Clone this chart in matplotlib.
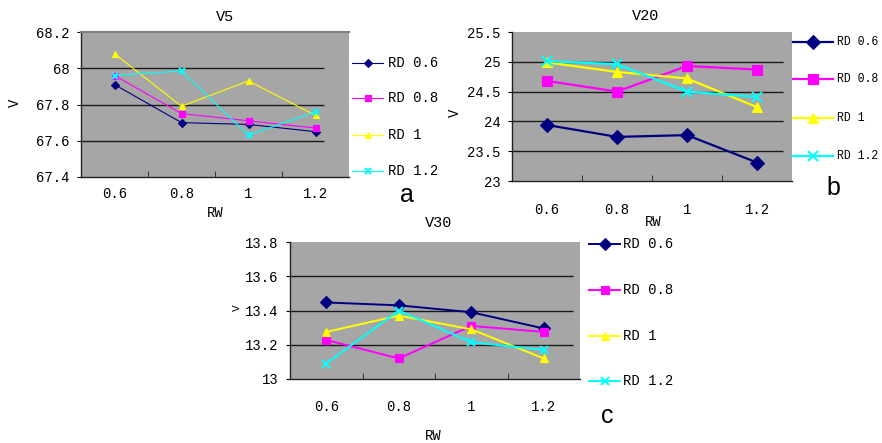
import matplotlib
matplotlib.use("Agg")
import matplotlib.pyplot as plt
from matplotlib.lines import Line2D
from matplotlib.ticker import FuncFormatter

# ── data ────────────────────────────────────────────────────────────────────
rw = ["0.6", "0.8", "1", "1.2"]
series = ["RD 0.6", "RD 0.8", "RD 1", "RD 1.2"]

v5_rd06 = [67.91, 67.70, 67.69, 67.65]
v5_rd08 = [67.96, 67.75, 67.71, 67.67]
v5_rd1 = [68.08, 67.79, 67.93, 67.74]
v5_rd12 = [67.96, 67.985, 67.63, 67.76]

v20_rd06 = [23.94, 23.74, 23.77, 23.31]
v20_rd08 = [24.68, 24.50, 24.93, 24.87]
v20_rd1 = [24.99, 24.83, 24.72, 24.24]
v20_rd12 = [25.01, 24.96, 24.50, 24.41]

v30_rd06 = [13.447, 13.43, 13.39, 13.295]
v30_rd08 = [13.228, 13.12, 13.31, 13.275]
v30_rd1 = [13.275, 13.37, 13.29, 13.12]
v30_rd12 = [13.09, 13.40, 13.215, 13.17]

v5_ticks = [67.4, 67.6, 67.8, 68.0, 68.2]
v20_ticks = [23, 23.5, 24, 24.5, 25, 25.5]
v30_ticks = [13.0, 13.2, 13.4, 13.6, 13.8]

# ── style ───────────────────────────────────────────────────────────────────
colors = ["#000080", "#ff00ff", "#ffff00", "#00ffff"]
markers = ["D", "s", "^", "x"]
MONO = "Liberation Mono"
W, H = 882, 443

fig = plt.figure(figsize=(W / 100, H / 100), dpi=100)
fig.patch.set_facecolor("white")


def px(x, y):
    return x / W, 1 - y / H


def panel(rect, data, ticks, grid_end, lw, ms, xpad, title, title_xy,
          ylab_xy, xlab_xy, letter, letter_xy, leg_x, leg_ys, leg_fs=10,
          ylab_fs=10, top_border=False):
    x0, y0, x1, y1 = rect
    ax = fig.add_axes([x0 / W, 1 - y1 / H, (x1 - x0) / W, (y1 - y0) / H])
    ax.set_facecolor("#a6a6a6")
    xs = range(len(rw))
    for vals, c, m in zip(data, colors, markers):
        mew = 1.5 if m == "x" else 0.8
        ax.plot(xs, vals, color=c, marker=m, lw=lw, ms=ms,
                markeredgecolor=c, markeredgewidth=mew, zorder=3)
    ax.set_xlim(-0.5, len(rw) - 0.5)
    ax.set_ylim(ticks[0], ticks[-1])
    for t in ticks[1:-1]:
        ax.hlines(t, -0.5, grid_end, color="#1a1a1a", lw=1.0, zorder=1)
    ax.set_xticks(list(xs))
    ax.set_xticklabels(rw, fontfamily=MONO, fontsize=10)
    ax.set_xticks([0.5, 1.5, 2.5], minor=True)
    ax.tick_params(axis="x", which="major", length=0, pad=xpad)
    ax.tick_params(axis="x", which="minor", direction="in", length=4,
                   color="#222222")
    ax.set_yticks(ticks)
    ax.yaxis.set_major_formatter(FuncFormatter(lambda v, p: f"{v:g}"))
    for lab in ax.get_yticklabels():
        lab.set_fontfamily(MONO)
        lab.set_fontsize(10)
    ax.tick_params(axis="y", direction="out", length=3, pad=5)
    ax.spines["right"].set_visible(False)
    if top_border:
        ax.spines["top"].set_color("#7f7f7f")
        ax.spines["top"].set_linewidth(1.5)
    else:
        ax.spines["top"].set_visible(False)
    for s in ("left", "bottom"):
        ax.spines[s].set_color("#222222")
        ax.spines[s].set_linewidth(1.0)

    fig.text(*px(*title_xy), title, ha="center", va="center",
             fontfamily=MONO, fontsize=11)
    fig.text(*px(*ylab_xy), "V", ha="center", va="center", rotation=90,
             fontfamily=MONO, fontsize=ylab_fs)
    fig.text(*px(*xlab_xy), "RW", ha="center", va="center",
             fontfamily=MONO, fontsize=10)
    fig.text(*px(*letter_xy), letter, ha="center", va="center",
             fontfamily="Liberation Sans", fontsize=18)

    # legend drawn at fixed spots beside the plot
    lx0, lx1, tx = leg_x
    for name, c, m, ly in zip(series, colors, markers, leg_ys):
        a, b = px(lx0, ly)
        bb, _ = px(lx1, ly)
        fig.add_artist(Line2D([a, bb], [b, b], color=c, lw=lw,
                              transform=fig.transFigure))
        mew = 1.5 if m == "x" else 0.8
        fig.add_artist(Line2D([(a + bb) / 2], [b], color=c, marker=m, ms=ms,
                              markeredgecolor=c, markeredgewidth=mew,
                              transform=fig.transFigure))
        fig.text(*px(tx, ly), name, ha="left", va="center",
                 fontfamily=MONO, fontsize=leg_fs)
    return ax


# ── panel a : V5 ────────────────────────────────────────────────────────────
panel((81, 32, 349, 177), [v5_rd06, v5_rd08, v5_rd1, v5_rd12], v5_ticks,
      3.12, 0.8, 4.5, 7, "V5", (225, 17), (15, 103), (215, 213),
      "a", (407, 195), (352, 383, 388), [63, 98, 135, 171], top_border=True)

# ── panel b : V20 ───────────────────────────────────────────────────────────
panel((512, 32, 792, 181), [v20_rd06, v20_rd08, v20_rd1, v20_rd12], v20_ticks,
      3.37, 1.6, 7, 16, "V20", (646, 16), (455, 113), (653, 222),
      "b", (833, 188), (793, 833, 837), [42, 79, 118, 156], leg_fs=8.3)

# ── panel c : V30 ───────────────────────────────────────────────────────────
panel((290, 242, 580, 379), [v30_rd06, v30_rd08, v30_rd1, v30_rd12], v30_ticks,
      3.41, 1.4, 6, 15, "V30", (439, 223), (237, 308), (433, 436),
      "c", (607, 416), (589, 620, 623), [244, 290, 336, 381], ylab_fs=8)

fig.savefig("out.png", dpi=100, facecolor="white")
